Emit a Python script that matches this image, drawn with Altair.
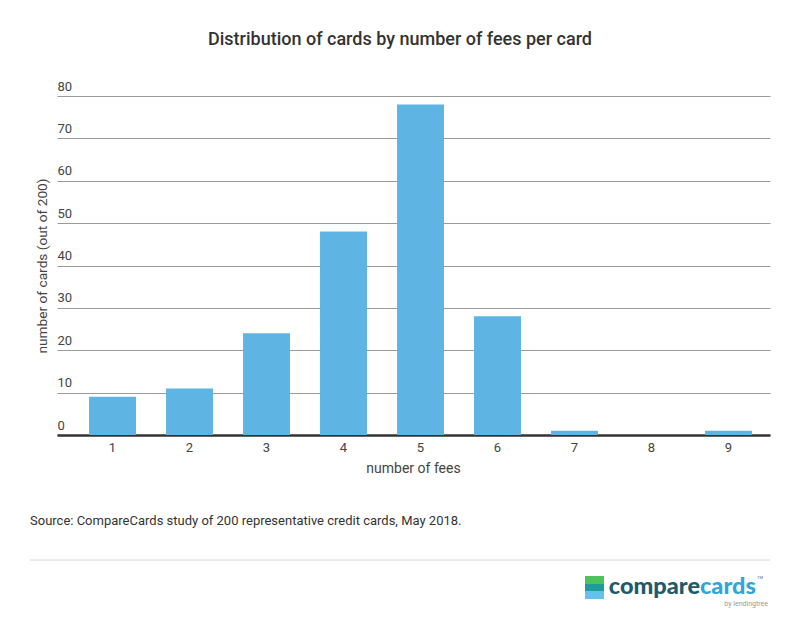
import altair as alt
import pandas as pd

fees = ["1", "2", "3", "4", "5", "6", "7", "8", "9"]
cards = [9, 11, 24, 48, 78, 28, 1, 0, 1]
y_ticks = [0, 10, 20, 30, 40, 50, 60, 70, 80]

title_text = "Distribution of cards by number of fees per card"
source_text = "Source: CompareCards study of 200 representative credit cards, May 2018."

df = pd.DataFrame({"fees": fees, "cards": cards})

W, H = 713, 339
FONT = "Roboto"

bars = alt.Chart(df).mark_bar(color="#5eb5e3").encode(
    x=alt.X("fees:N", sort=fees,
            scale=alt.Scale(paddingInner=0.39, paddingOuter=0.325, align=0.64),
            axis=alt.Axis(title="number of fees", labelAngle=0, ticks=False,
                          domainColor="#333333", domainWidth=2.5,
                          labelFont=FONT, labelFontSize=13, labelColor="#444444",
                          labelPadding=6, titleFont=FONT, titleFontSize=14,
                          titleFontWeight="normal", titleColor="#444444",
                          titlePadding=7, grid=False, titleX=413 - 57)),
    y=alt.Y("cards:Q", scale=alt.Scale(domain=[0, 80], nice=False),
            axis=alt.Axis(values=y_ticks, title="number of cards (out of 200)",
                          ticks=False, domain=False, grid=True,
                          gridColor="#9a9a9a", gridWidth=1,
                          labelAlign="left", labelBaseline="bottom",
                          labelPadding=0, labelOffset=-3,
                          labelFont=FONT, labelFontSize=13, labelColor="#444444",
                          titleFont=FONT, titleFontSize=13.7, titleFontWeight="normal",
                          titleColor="#444444", titleX=-15, titleY=H / 2,
                          titleAlign="center", titleBaseline="middle")),
)

def label(txt, x, y, size, color, weight="normal", align="left", baseline="middle", font=FONT):
    return alt.Chart(pd.DataFrame({"t": [txt]})).mark_text(
        font=font, fontSize=size, color=color, fontWeight=weight,
        align=align, baseline=baseline
    ).encode(text="t:N", x=alt.value(x), y=alt.value(y))

title = label(title_text, 400 - 57, 40 - 96, 18, "#333333", weight=500, align="center")
source = label(source_text, 30 - 57, 521 - 96, 13, "#333333")

sep = alt.Chart(pd.DataFrame({"a": [0]})).mark_rule(color="#d6d6d6", strokeWidth=1).encode(
    x=alt.value(30 - 57), x2=alt.value(770 - 57), y=alt.value(560 - 96)
)

def rect(x1, x2, y1, y2, color):
    return alt.Chart(pd.DataFrame({"a": [0]})).mark_rect(color=color).encode(
        x=alt.value(x1 - 57), x2=alt.value(x2 - 57), y=alt.value(y1 - 96), y2=alt.value(y2 - 96)
    )

logo_icon = (rect(585, 604, 576, 584, "#4cc35f") + rect(585, 604, 584, 591, "#1c9c9a")
             + rect(585, 604, 591, 599, "#63c1ec"))
logo1 = label("compare", 700 - 57, 587 - 96, 23.5, "#1d5a6b", weight=900, align="right", font="Lato")
logo2 = label("cards", 700 - 57, 587 - 96, 23.5, "#2ea6d9", weight=900, align="left", font="Lato")
logo3 = label("by lendingtree", 768 - 57, 604 - 96, 7, "#9a9a9a", align="right")
logo4 = label("TM", 757 - 57, 578 - 96, 4, "#666666", align="left")

chart = alt.layer(bars, title, source, sep, logo_icon, logo1, logo2, logo3, logo4).properties(
    width=W, height=H,
    autosize=alt.AutoSizeParams(type="none"),
    padding={"left": 57, "top": 96, "right": 30, "bottom": 190},
    background="white",
).configure_view(stroke=None)

chart.save("out.html", embed_options={"renderer": "svg", "actions": False})
